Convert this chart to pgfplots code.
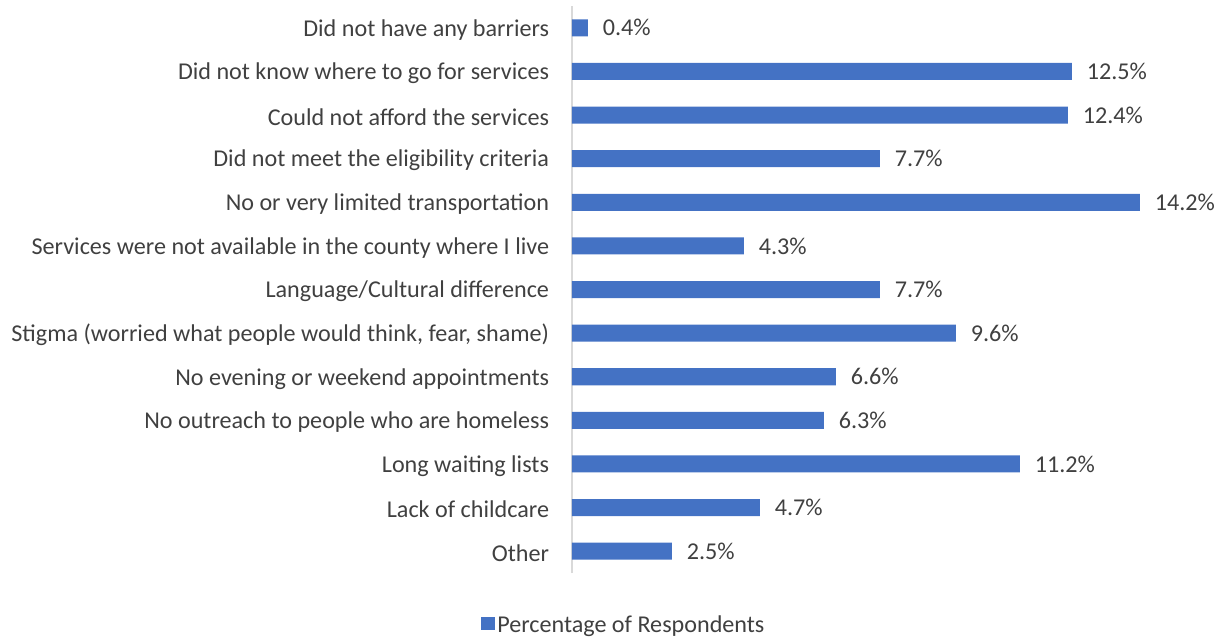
\documentclass[border=0pt]{standalone}
\usepackage{pgfplots}
\pgfplotsset{compat=1.18}
\usepackage{fontspec}
\setmainfont{Carlito}
\definecolor{barblue}{HTML}{4472C4}
\definecolor{txt}{HTML}{404040}
\definecolor{axgray}{HTML}{D9D9D9}
\begin{document}
\begin{tikzpicture}
\begin{axis}[
    scale only axis,
    width=450pt, height=425.25pt,
    xbar, bar width=0.39,
    xmin=0, xmax=15,
    ymin=-0.5, ymax=12.5,
    axis y line=left, axis x line=none,
    y axis line style={axgray, line width=0.9pt, -},
    xtick=\empty,
    ytick={0,...,12},
    yticklabels={Other, Lack of childcare, Long waiting lists,
        No outreach to people who are homeless,
        No evening or weekend appointments,
        {Stigma (worried what people would think, fear, shame)},
        Language/Cultural difference,
        Services were not available in the county where I live,
        No or very limited transportation,
        Did not meet the eligibility criteria,
        Could not afford the services,
        Did not know where to go for services,
        Did not have any barriers},
    major tick length=0pt,
    ytick style={draw=none},
    yticklabel style={font=\fontsize{18.1}{21}\selectfont, text=txt, inner sep=0pt, xshift=-17pt, yshift=-1.5pt},
    /pgf/number format/assume math mode=true,
    nodes near coords={\pgfmathprintnumber[fixed, fixed zerofill, precision=1]{\pgfplotspointmeta}\%},
    nodes near coords style={font=\fontsize{18.1}{21}\selectfont, text=txt, anchor=west, inner sep=0pt, xshift=11pt},
    point meta=explicit,
    clip=false,
    legend style={at={(0.087,-0.092)}, anchor=center, draw=none, font=\fontsize{18.1}{21}\selectfont, text=txt,
        legend cell align=left},
    legend image code/.code={\fill[barblue] (0cm,-0.14cm) rectangle (0.35cm,0.21cm);},
]
\addplot[draw=none, fill=barblue] coordinates {
    (2.5,0) [2.5]
    (4.7,1) [4.7]
    (11.2,2) [11.2]
    (6.3,3) [6.3]
    (6.6,4) [6.6]
    (9.6,5) [9.6]
    (7.7,6) [7.7]
    (4.3,7) [4.3]
    (14.2,8) [14.2]
    (7.7,9) [7.7]
    (12.4,10) [12.4]
    (12.5,11) [12.5]
    (0.4,12) [0.4]
};
\addlegendentry{Percentage of Respondents}
\coordinate (tl) at (rel axis cs:-0.9533,1.0106);
\coordinate (br) at (rel axis cs:1.085,-0.1164);
\end{axis}
\path (tl) rectangle (br);
\end{tikzpicture}
\end{document}
